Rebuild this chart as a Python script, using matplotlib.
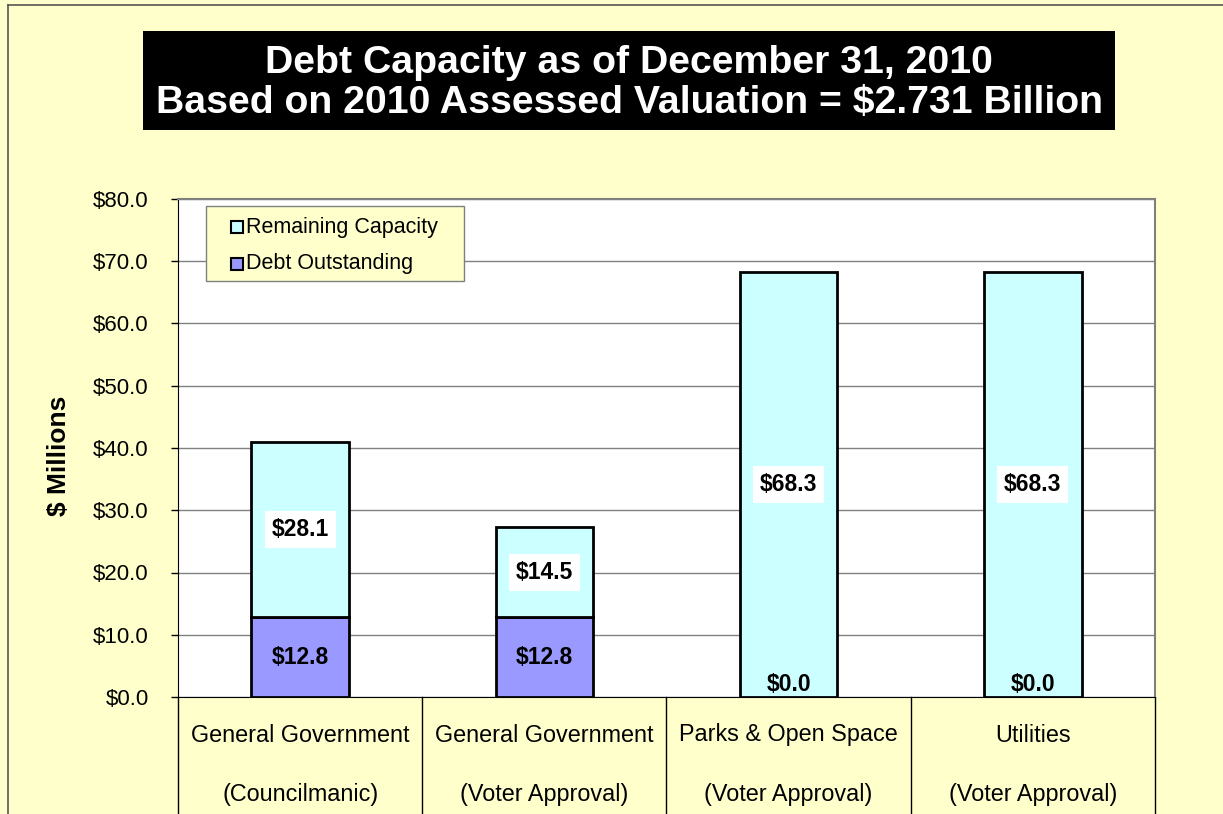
import matplotlib
matplotlib.use("Agg")
import matplotlib.pyplot as plt
from matplotlib.patches import Rectangle
from matplotlib.lines import Line2D
from matplotlib.ticker import FuncFormatter, MultipleLocator
import numpy as np

# Debt capacity by category ($ millions)
categories = ["General Government", "General Government", "Parks & Open Space", "Utilities"]
subtitles = ["(Councilmanic)", "(Voter Approval)", "(Voter Approval)", "(Voter Approval)"]
debt_outstanding = [12.8, 12.8, 0.0, 0.0]
remaining_capacity = [28.1, 14.5, 68.3, 68.3]

plt.rcParams["font.family"] = ["Liberation Sans", "DejaVu Sans"]

BG = "#FFFFCC"
CYAN = "#CCFFFF"
PURPLE = "#9999FF"

W, H = 1223, 814
fig = plt.figure(figsize=(W / 100, H / 100), dpi=100, facecolor=BG)

# frame lines around the chart area (top and left)
fig.add_artist(Line2D([8 / W, 1], [1 - 5 / H, 1 - 5 / H], color="#555555", lw=1.2))
fig.add_artist(Line2D([8 / W, 8 / W], [0, 1 - 5 / H], color="#555555", lw=1.2))

# title block
fig.add_artist(Rectangle((143 / W, 1 - 130 / H), 972 / W, 99 / H,
                         transform=fig.transFigure, facecolor="black", edgecolor="none"))
fig.text(629 / W, 1 - 83 / H,
         "Debt Capacity as of December 31, 2010\nBased on 2010 Assessed Valuation = $2.731 Billion",
         color="white", fontsize=28.3, fontweight="bold", ha="center", va="center",
         linespacing=1.12)

ax = fig.add_axes([178 / W, 1 - 697 / H, 977 / W, 498 / H])
ax.set_facecolor("white")

x = np.arange(len(categories))
bw = 0.4
ax.bar(x, debt_outstanding, bw, color=PURPLE, edgecolor="black", linewidth=2,
       label="Debt Outstanding", zorder=3)
ax.bar(x, remaining_capacity, bw, bottom=debt_outstanding, color=CYAN,
       edgecolor="black", linewidth=2, label="Remaining Capacity", zorder=3)

ax.set_xlim(-0.5, len(categories) - 0.5)
ax.set_ylim(0, 80)
ax.yaxis.set_major_locator(MultipleLocator(10))
ax.yaxis.set_major_formatter(FuncFormatter(lambda v, p: f"${v:.1f}"))
ax.tick_params(axis="y", labelsize=16, length=5, width=1, direction="out", pad=16)
ax.set_xticks([])
ax.grid(axis="y", color="#808080", linewidth=1, zorder=0)
ax.set_axisbelow(True)

for side in ("top", "right"):
    ax.spines[side].set_color("#808080")
    ax.spines[side].set_linewidth(1.5)
ax.spines["left"].set_color("black")
ax.spines["bottom"].set_color("black")

ax.set_ylabel("$ Millions", fontsize=19, fontweight="bold")
ax.yaxis.set_label_coords((71 - 178) / 977, (697 - 456) / 498)

# value labels
for i in range(len(categories)):
    d = debt_outstanding[i]
    r = remaining_capacity[i]
    if d > 0:
        ax.text(x[i], d / 2, f"${d:.1f}", ha="center", va="center",
                fontsize=16.5, fontweight="bold", zorder=5)
    else:
        ax.annotate(f"${d:.1f}", (x[i], 0), xytext=(0, 1), textcoords="offset points",
                    ha="center", va="bottom", fontsize=16.5, fontweight="bold", zorder=5)
    ax.text(x[i], d + r / 2, f"${r:.1f}", ha="center", va="center",
            fontsize=16.5, fontweight="bold", zorder=5,
            bbox=dict(facecolor="white", edgecolor="none", pad=5))

# category table under the axis
tr = ax.get_xaxis_transform()
for edge in np.arange(len(categories) + 1) - 0.5:
    ax.plot([edge, edge], [0, -0.3], transform=tr, color="black", lw=1, clip_on=False)
for i in range(len(categories)):
    ax.text(x[i], -38 / 498, categories[i], transform=tr, ha="center", va="center",
            fontsize=16.8, clip_on=False)
    ax.text(x[i], -98 / 498, subtitles[i], transform=tr, ha="center", va="center",
            fontsize=16.8, clip_on=False)

# legend box, drawn in axes pixel offsets from the top-left corner
def px(dx, dy):
    return dx / 977, 1 - dy / 498

lx0, ly0, lw, lh = 28, 7, 258, 75
ax.add_patch(Rectangle(px(lx0, ly0 + lh), lw / 977, lh / 498, transform=ax.transAxes,
                       facecolor=BG, edgecolor="#808080", lw=1, zorder=10, clip_on=False))
legend_items = [("Remaining Capacity", CYAN), ("Debt Outstanding", PURPLE)]
for k, (name, col) in enumerate(legend_items):
    cy = ly0 + 21 + 37 * k
    ax.add_patch(Rectangle(px(lx0 + 25, cy + 6), 12 / 977, 12 / 498, transform=ax.transAxes,
                           facecolor=col, edgecolor="black", lw=1.5, zorder=11))
    ax.text(*px(lx0 + 40, cy), name, transform=ax.transAxes, ha="left", va="center",
            fontsize=15.5, zorder=12)

fig.savefig("out.png", dpi=100, facecolor=BG)
